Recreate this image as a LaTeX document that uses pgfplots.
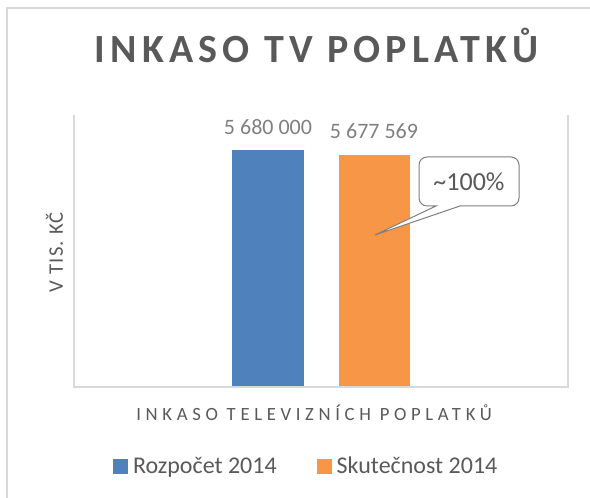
\documentclass[border=0pt]{standalone}
\usepackage{fontspec}
\setmainfont{Carlito}
\newfontfamily\titlefont{Carlito}[LetterSpace=13]
\newfontfamily\xlabfont{Carlito}[LetterSpace=25]
\newfontfamily\ylabfont{Carlito}[LetterSpace=6]
\usepackage{pgfplots}
\pgfplotsset{compat=1.18}
\definecolor{barblue}{HTML}{4F81BD}
\definecolor{barorange}{HTML}{F79646}
\definecolor{txtgray}{HTML}{595959}
\definecolor{lblgray}{HTML}{7F7F7F}
\definecolor{linegray}{HTML}{D9D9D9}
\begin{document}
\begin{tikzpicture}
\path[use as bounding box] (0,0) rectangle (442.5pt,373.5pt);
\draw[linegray, line width=1.2pt] (5.25pt,0) -- (5.25pt,367.5pt) -- (442.5pt,367.5pt);
\begin{axis}[
  at={(55.5pt,83.25pt)}, anchor=south west,
  scale only axis, width=370.5pt, height=204pt,
  xmin=-1, xmax=1, ymin=5540000, ymax=5701000,
  axis line style={draw=none},
  xtick=\empty, ytick=\empty,
  ybar=26.25pt, bar width=53.25pt,
  nodes near coords, point meta=explicit symbolic,
  every node near coord/.append style={font=\fontsize{16.5}{18}\selectfont, text=lblgray, anchor=base, inner sep=0pt, yshift=12pt},
  title={INKASO TV POPLATKŮ},
  title style={at={(axis description cs:0.491,1.165)}, anchor=base, font=\titlefont\bfseries\fontsize{30}{36}\selectfont, text=txtgray},
  xlabel={INKASO TELEVIZNÍCH POPLATKŮ},
  xlabel style={at={(axis description cs:0.486,-0.125)}, anchor=base, font=\xlabfont\fontsize{14}{16}\selectfont, text=txtgray},
  ylabel={V TIS. KČ},
  ylabel style={at={(axis description cs:-0.0223,0.4945)}, anchor=base, font=\ylabfont\fontsize{15.5}{17}\selectfont, text=txtgray},
  legend columns=2,
  legend style={at={(axis description cs:0.079,-0.2923)}, anchor=west, draw=none, fill=none, inner sep=0pt, outer sep=0pt,
    font=\fontsize{18}{20}\selectfont, text=txtgray, cells={anchor=base west}, nodes={inner sep=0pt},
    /tikz/every odd column/.append style={column sep=3.75pt},
    /tikz/every even column/.append style={column sep=30pt}},
  after end axis/.code={\draw[linegray, line width=1pt] (rel axis cs:0,1) -- (rel axis cs:0,0) -- (rel axis cs:1,0) -- (rel axis cs:1,1);},
]
\addplot[fill=barblue, draw=none, legend image code/.code={\fill[barblue] (0pt,0pt) rectangle (11.25pt,11.25pt);}]
  coordinates {(0,5680000) [5 680 000]};
\addplot[fill=barorange, draw=none, legend image code/.code={\fill[barorange] (0pt,0pt) rectangle (11.25pt,11.25pt);}]
  coordinates {(0,5677569) [5 677 569]};
\legend{Rozpočet 2014, Skutečnost 2014}
\end{axis}
\begin{scope}[x=0.75pt,y=-0.75pt,yshift=373.5pt]
\draw[lblgray, line width=0.75pt, fill=white] (375,235) -- (460,206) [rounded corners=6pt] -- (519,206) -- (519,157) -- (419,157) -- (419,206) [sharp corners] -- (436,206) -- cycle;
\node[text=txtgray, font=\fontsize{19.5}{22}\selectfont] at (469,182) {\textasciitilde100\%};
\end{scope}
\end{tikzpicture}
\end{document}
